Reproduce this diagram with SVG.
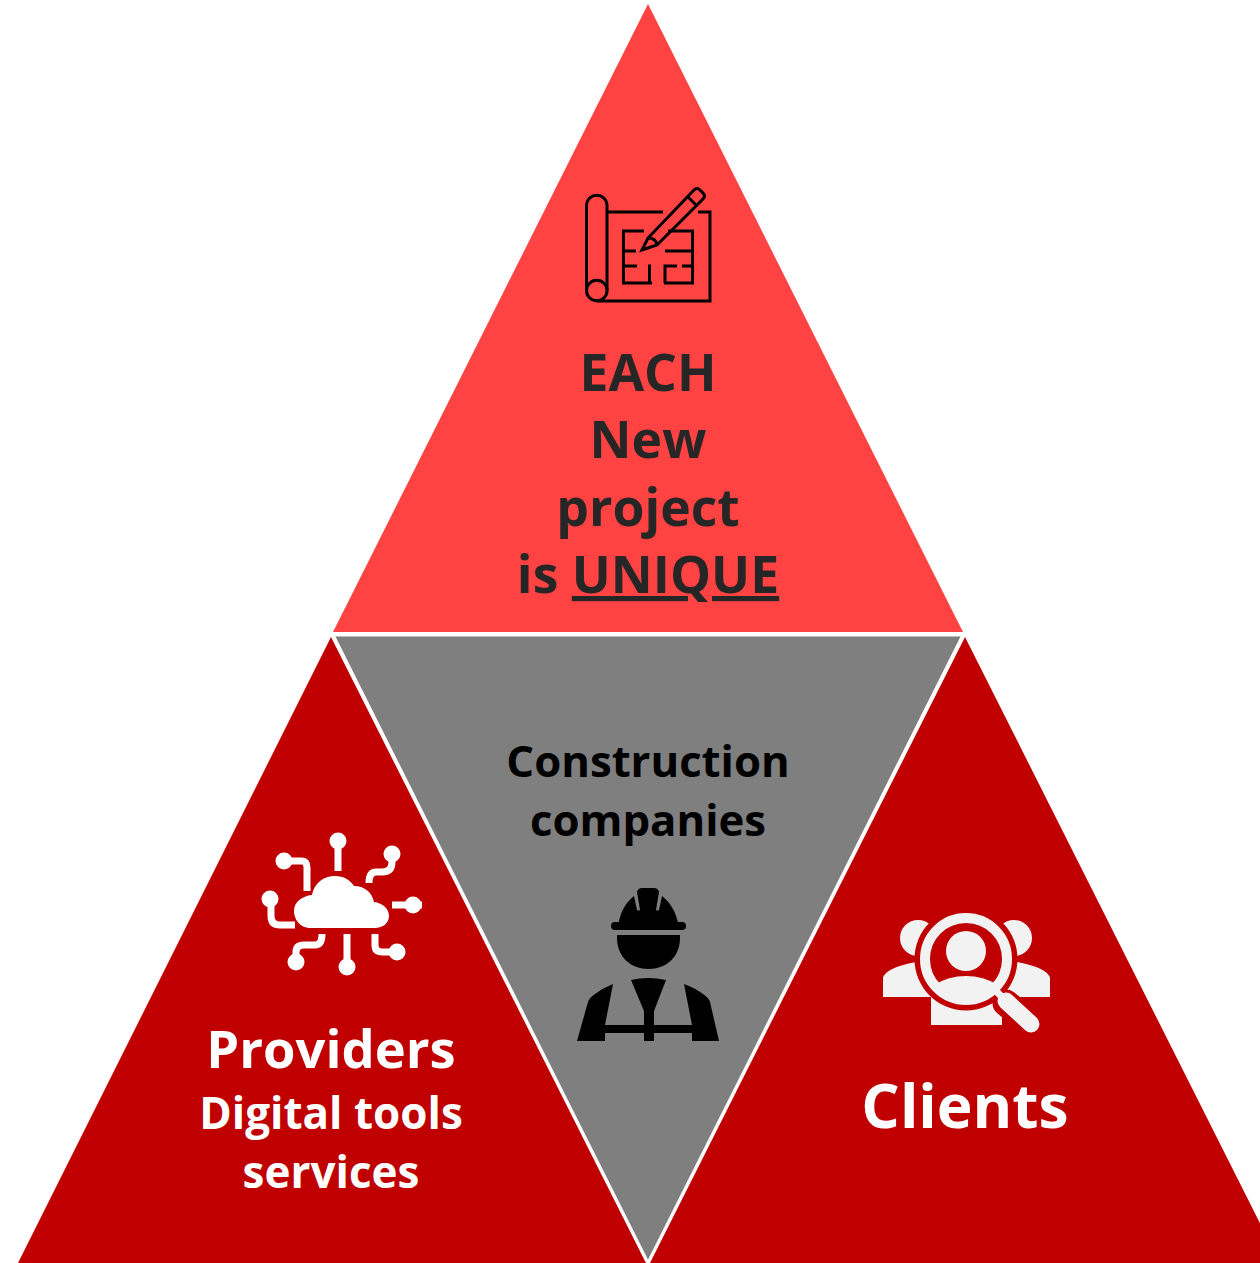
<svg xmlns="http://www.w3.org/2000/svg" width="1260" height="1263" viewBox="0 0 1260 1263">
<style>
text{font-family:"Open Sans","Liberation Sans",sans-serif;font-weight:700;text-anchor:middle}
.dark{fill:#262626}.blk{fill:#000}.wht{fill:#fff}
.ln{fill:none;stroke:#000;stroke-width:3}
.cl{fill:none;stroke:#fff;stroke-width:7}
</style>
<defs><clipPath id="lens"><circle cx="966" cy="959" r="37"/></clipPath></defs>
<rect width="1260" height="1263" fill="#fff"/>
<g id="node-top">
<polygon points="648,4 963,632 333,632" fill="#ff4343"/>
<g id="icon-blueprint" class="ln">
<path d="M607,212H663M698,212H710V301H597"/>
<path d="M586.500,290V204.500A10.300,10.300 0 0 1 607,204.500V290"/>
<circle cx="596.800" cy="290.500" r="10.300"/>
<path d="M644,231H623.500V283H652M668,231H692.500V283H664M624,251H636M665,251H692M624,266H637M648,266H649.500V283M665,283V266H677M682,266H692"/>
<path d="M642,250L648,238L694,190Q697,187 700,190L703,193Q706,196 703,199L657,245ZM648,238Q656,238 657,245M688,197L696,205"/>
</g>
<text class="dark" font-size="51.700" x="648" y="391">EACH</text>
<text class="dark" font-size="51.700" x="648" y="458">New</text>
<text class="dark" font-size="51.700" x="648" y="526">project</text>
<text class="dark" font-size="51.700" x="648" y="593">is <tspan text-decoration="underline">UNIQUE</tspan></text>
</g>
<g id="node-left">
<polygon points="331,637 646,1263 18,1263" fill="#c00000"/>
<g id="icon-cloud">
<path class="wht" d="M311,928C298,928 294,917 294,911C294,902 302,896 312,895C314,883 324,876 335,876C344,876 350,880 354,886C364,886 372,892 374,902C383,903 389,909 389,916C389,923 383,928 375,928Z"/>
<g class="cl">
<path d="M338,840V871M392,855V862Q392,872 382,872H376Q369,872 369,883M285,861H302Q307,861 307,868V891M271,899V916Q271,925 280,925H295M422,905H392M296,961V952Q296,945 304,945H315Q322,945 322,934M347,967V934M397,952H382Q375,952 375,945V934"/>
</g>
<g class="wht"><circle cx="338" cy="841" r="8.500"/><circle cx="392" cy="854" r="8.500"/><circle cx="284" cy="861" r="8.500"/><circle cx="270" cy="899" r="8.500"/><circle cx="413" cy="905" r="8.500"/><circle cx="296" cy="962" r="8.500"/><circle cx="347" cy="967" r="8.500"/><circle cx="397" cy="952" r="8.500"/></g>
</g>
<text class="wht" font-size="52.500" x="331" y="1068">Providers</text>
<text class="wht" font-size="44" x="331" y="1129">Digital tools</text>
<text class="wht" font-size="44" x="331" y="1188">services</text>
</g>
<g id="node-center">
<polygon points="333,635 963,635 648,1263" fill="#7f7f7f" stroke="#fff" stroke-width="3"/>
<text class="blk" font-size="43.700" x="648" y="777">Construction</text>
<text class="blk" font-size="43.700" x="648" y="836">companies</text>
<g id="icon-worker" class="blk">
<path d="M614,930H618Q619,908 634,896L637,910Q638,911 640,910L637,892Q638,888 642,888H654Q658,888 659,892L656,910Q658,911 659,910L662,896Q677,908 679,930H683Q686,930 686,927Q686,930 683,930H614Z"/>
<rect x="611" y="922" width="75" height="8" rx="4"/>
<path d="M617,935H680V938C680,957 666,969 648.500,969C631,969 617,957 617,938Z"/>
<path d="M631,980Q648,976 666,980L654,1011V1041H644V1011Z"/>
<path d="M613,984L605,1025H644V1033H605V1041H577L588,1002Q590,997 595,994Q603,988 613,984ZM684,984L692,1025H654V1033H692V1041H719L710,1002Q708,997 703,994Q695,988 684,984Z"/>
</g>
</g>
<g id="node-right">
<polygon points="965,637 1280,1263 650,1263" fill="#c00000"/>
<g id="icon-clients" fill="#f2f2f2">
<circle cx="918" cy="938" r="18"/><circle cx="1014" cy="938" r="18"/>
<path d="M883,997V978Q885,968 916,962L940,962V997ZM1050,997V978Q1048,968 1017,962L990,962V997Z"/>
<rect x="931" y="990" width="71" height="35"/>
<circle cx="966" cy="959" r="51.500" fill="#c00000"/>
<circle cx="966" cy="959" r="41" fill="none" stroke="#f2f2f2" stroke-width="10"/>
<circle cx="966" cy="951" r="20"/>
<ellipse cx="966" cy="1006" rx="44" ry="30" clip-path="url(#lens)"/>
<path d="M1006,1003L1031,1024" stroke="#c00000" stroke-width="27" stroke-linecap="round" fill="none"/>
<path d="M995,990L1006,1001" stroke="#f2f2f2" stroke-width="7" fill="none"/>
<path d="M1006,1001L1031,1024" stroke="#f2f2f2" stroke-width="17" stroke-linecap="round" fill="none"/>
</g>
<text class="wht" font-size="60.500" x="965" y="1128">Clients</text>
</g>
<g id="connectors"></g>
</svg>
